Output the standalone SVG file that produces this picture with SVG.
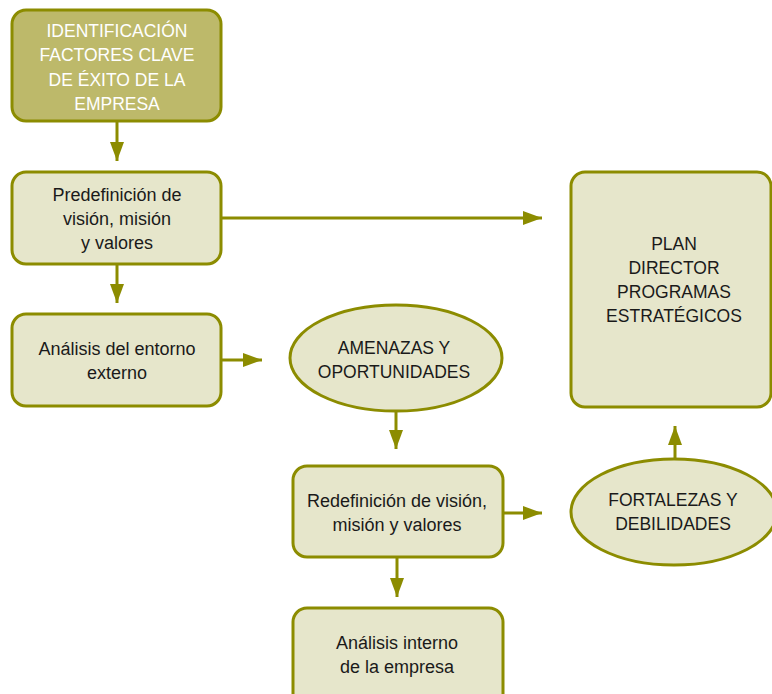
<svg xmlns="http://www.w3.org/2000/svg" width="772" height="694" viewBox="0 0 772 694">
<style>
.box{fill:#e6e6cb;stroke:#8c8c00;stroke-width:3}
.top{fill:#bdb96a;stroke:#8c8c00;stroke-width:3}
.line{stroke:#8c8c00;stroke-width:3;fill:none}
text{font-family:"Liberation Sans",Arial,sans-serif;font-size:17.5px;fill:#1a1a1a;text-anchor:middle}
.lc{font-size:18px}
.w{fill:#ffffff}
</style>
<defs>
<marker id="ah" markerUnits="userSpaceOnUse" markerWidth="20" markerHeight="16" refX="19" refY="7" orient="auto">
<path d="M0,0 L19,7 L0,14 Z" fill="#8c8c00"/>
</marker>
</defs>
<g id="connectors">
<line class="line" x1="117" y1="122" x2="117" y2="161" marker-end="url(#ah)"/>
<line class="line" x1="221" y1="218" x2="542" y2="218" marker-end="url(#ah)"/>
<line class="line" x1="117" y1="264" x2="117" y2="303" marker-end="url(#ah)"/>
<line class="line" x1="221" y1="360" x2="262" y2="360" marker-end="url(#ah)"/>
<line class="line" x1="396" y1="411" x2="396" y2="449" marker-end="url(#ah)"/>
<line class="line" x1="503" y1="513" x2="542" y2="513" marker-end="url(#ah)"/>
<line class="line" x1="397" y1="558" x2="397" y2="597" marker-end="url(#ah)"/>
<line class="line" x1="675" y1="459" x2="675" y2="426" marker-end="url(#ah)"/>
</g>
<g id="n1">
<rect class="top" x="12" y="10" width="209" height="111" rx="14"/>
<text class="w" x="117" y="37">IDENTIFICACIÓN</text>
<text class="w" x="117" y="61">FACTORES CLAVE</text>
<text class="w" x="117" y="86">DE ÉXITO DE LA</text>
<text class="w" x="117" y="110">EMPRESA</text>
</g>
<g id="n2">
<rect class="box" x="12" y="172" width="209" height="92" rx="14"/>
<text class="lc" x="117" y="201">Predefinición de</text>
<text class="lc" x="117" y="225">visión, misión</text>
<text class="lc" x="117" y="249">y valores</text>
</g>
<g id="n3">
<rect class="box" x="12" y="314" width="209" height="92" rx="14"/>
<text class="lc" x="117" y="355">Análisis del entorno</text>
<text class="lc" x="117" y="379">externo</text>
</g>
<g id="n4">
<ellipse class="box" cx="396" cy="358" rx="106" ry="53"/>
<text x="394" y="354">AMENAZAS Y</text>
<text x="394" y="378">OPORTUNIDADES</text>
</g>
<g id="n5">
<rect class="box" x="293" y="466" width="210" height="91" rx="14"/>
<text class="lc" x="397" y="507">Redefinición de visión,</text>
<text class="lc" x="397" y="531">misión y valores</text>
</g>
<g id="n6">
<rect class="box" x="293" y="608" width="210" height="100" rx="14"/>
<text class="lc" x="397" y="649">Análisis interno</text>
<text class="lc" x="397" y="673">de la empresa</text>
</g>
<g id="n7">
<ellipse class="box" cx="674" cy="512" rx="103" ry="53"/>
<text x="673" y="506">FORTALEZAS Y</text>
<text x="673" y="530">DEBILIDADES</text>
</g>
<g id="n8">
<rect class="box" x="571" y="172" width="200" height="235" rx="14"/>
<text x="674" y="250">PLAN</text>
<text x="674" y="274">DIRECTOR</text>
<text x="674" y="298">PROGRAMAS</text>
<text x="674" y="322">ESTRATÉGICOS</text>
</g>
</svg>
